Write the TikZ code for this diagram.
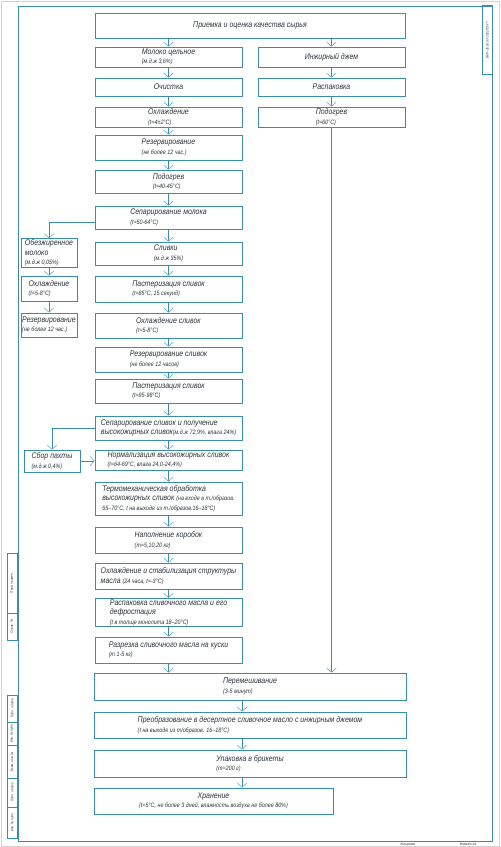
\documentclass[tikz,border=0pt]{standalone}
\usepackage{fontspec}
\setmainfont{Liberation Sans}[FakeStretch=0.85]
\usepackage{xcolor}
\definecolor{lineBlue}{RGB}{58, 140, 172}
\definecolor{arrowBlue}{RGB}{95, 170, 210}
\definecolor{textGray}{RGB}{45, 52, 62}
\usepackage{tikz}
\usetikzlibrary{positioning, arrows.meta}
\newcommand\mainfs{\itshape\fontsize{7}{8.2}\selectfont}
\newcommand\subfs{\fontsize{5.4}{6.2}\selectfont}
\newcommand\tinyfs{\itshape\fontsize{3}{3.5}\selectfont}

\begin{document}
\begin{tikzpicture}[
		x=0.03cm, y=-0.03cm,
		text=textGray,
		box/.style={rectangle, draw=lineBlue, line width=0.6pt, fill=white,
			align=left, inner sep=1pt, font=\mainfs},
		wd/.style={minimum width=#1*0.03cm},
		ht/.style={minimum height=#1*0.03cm},
		col/.style={box, wd=147},
		wide/.style={box, wd=312},
		side/.style={box, wd=56},
		arr/.style={draw=lineBlue, line width=0.5pt,
			-{Straight Barb[length=3.5pt, width=8pt, color=arrowBlue]}},
		frame/.style={draw=lineBlue, line width=0.6pt},
		stamp/.style={rectangle, draw=lineBlue, line width=0.5pt, inner sep=0.5pt,
			font=\tinyfs, rotate=90, minimum height=0.3cm}
		]
		\useasboundingbox (0,0) rectangle (500,847);
		\fill[white] (0,0) rectangle (500,847);
		\draw[gray!35, line width=0.8pt] (1,1) rectangle (499,846);

		% drawing frame
		\draw[frame] (18,6) rectangle (492,841);
		\node[stamp, wd=69] (code) at (487.5,40) {ВКР–35.03.07–2022ПЗ–ГТ};
		\node[stamp, wd=60] (perv)  at (12,583)   {Перв. примен.};
		\node[stamp, wd=27] (sprav) at (12,626.5) {Справ. №};
		\node[stamp, wd=27] (podp1) at (12,708.5) {Подп. и дата};
		\node[stamp, wd=23] (dubl)  at (12,733.5) {Инв. № дубл.};
		\node[stamp, wd=33] (vzam)  at (12,761.5) {Взам. инв. №};
		\node[stamp, wd=29] (podp2) at (12,792.5) {Подп. и дата};
		\node[stamp, wd=31] (podl)  at (12,822.5) {Инв. № подл.};
		\node[font=\tinyfs, inner sep=0pt] (kop) at (408,844.5) {Копировал};
		\node[font=\tinyfs, inner sep=0pt] (fmt) at (468,844.5) {Формат А4};

		% main column
		\node[box, wd=310, ht=25, align=center] (priem) at (250,25.5)
		{Приемка и оценка качества сырья};
		\node[col, ht=20] (milk)    at (168.5,57)    {Молоко цельное\\{\subfs(м.д.ж 3,6\%)}};
		\node[col, ht=18] (clean)   at (168.5,87)    {Очистка};
		\node[col, ht=20] (cool)    at (168.5,117)   {Охлаждение\\{\subfs(t=4±2°C)}};
		\node[col, ht=25] (resmilk) at (168.5,147.5) {Резервирование\\{\subfs(не более 12 час.)}};
		\node[col, ht=23] (heat)    at (168.5,181.5) {Подогрев\\{\subfs(t=40-45°C)}};
		\node[col, ht=23] (sepmilk) at (168.5,217.5) {Сепарирование молока\\{\subfs(t=50-64°C)}};
		\node[col, ht=23] (cream)   at (168.5,253.5) {Сливки\\{\subfs(м.д.ж 35\%)}};
		\node[col, ht=26] (pastA)   at (168.5,289)   {Пастеризация сливок\\{\subfs(t=85°C, 15 секунд)}};
		\node[col, ht=25] (coolcr)  at (168.5,325.5) {Охлаждение сливок\\{\subfs(t=5-8°C)}};
		\node[col, ht=25] (rescr)   at (168.5,359.5) {Резервирование сливок\\{\subfs(не более 12 часов)}};
		\node[col, ht=24] (pastB)   at (168.5,391)   {Пастеризация сливок\\{\subfs(t=95-98°C)}};
		\node[col, ht=24] (sepcr)   at (168.5,428)
		{Сепарирование сливок и получение\\высокожирных сливок{\subfs(м.д.ж 72,9\%, влага 24\%)}};
		\node[col, ht=20] (norm)    at (168.5,460)
		{Нормализация высокожирных сливок\\{\subfs(t=64-69°C, влага 24,0-24,4\%)}};
		\node[col, ht=33] (thermo)  at (168.5,498.5)
		{Термомеханическая обработка\\высокожирных сливок {\subfs(на входе в т./образов.}\\{\subfs 65–70°C, t на выходе из т./образов.16–18°C)}};
		\node[col, ht=26] (boxfill) at (168.5,540)   {Наполнение коробок\\{\subfs(m=5,10,20 кг)}};
		\node[col, ht=26] (stab)    at (168.5,576)
		{Охлаждение и стабилизация структуры\\масла {\subfs(24 часа, t=-3°C)}};
		\node[col, ht=27] (unpack)  at (168.5,612.5)
		{Распаковка сливочного масла и его\\дефростация\\{\subfs(t в толще монолита 18–20°C)}};
		\node[col, ht=26] (cut)     at (168.5,650)
		{Разрезка сливочного масла на куски\\{\subfs(m 1-5 кг)}};

		% jam column
		\node[col, ht=20] (jam)     at (331.5,57)  {Инжирный джем};
		\node[col, ht=18] (unpjam)  at (331.5,87)  {Распаковка};
		\node[col, ht=20] (heatjam) at (331.5,117) {Подогрев\\{\subfs(t=60°C)}};

		% side branches
		\node[side, ht=24] (skim)    at (49,253)   {Обезжиренное\\молоко\\{\subfs(м.д.ж 0,05\%)}};
		\node[side, ht=25] (coolsk)  at (49,288.5) {Охлаждение\\{\subfs(t=5-8°C)}};
		\node[side, ht=24] (ressk)   at (49,325)   {Резервирование\\{\subfs(не более 12 час.)}};
		\node[side, ht=22] (butter)  at (52,461)   {Сбор пахты\\{\subfs(м.д.ж 0,4\%)}};

		% joint steps
		\node[wide, ht=27] (mix)   at (250,686.5) {Перемешивание\\{\subfs(3-5 минут)}};
		\node[wide, ht=26] (conv)  at (250,725)
		{Преобразование в десертное сливочное масло с инжирным джемом\\{\subfs(t на выходе из т/образов. 16–18°C)}};
		\node[wide, ht=27] (pack)  at (250,763.5) {Упаковка в брикеты\\{\subfs(m=200 г)}};
		\node[box, wd=239, ht=26, align=center] (keep) at (213.5,801)
		{Хранение\\{\subfs(t=5°C, не более 3 дней, влажность воздуха не более 80\%)}};

		\draw[arr] (priem.south -| milk) -- (milk);
		\draw[arr] (priem.south -| jam)  -- (jam);
		\draw[arr] (milk)    -- (clean);
		\draw[arr] (clean)   -- (cool);
		\draw[arr] (cool)    -- (resmilk);
		\draw[arr] (resmilk) -- (heat);
		\draw[arr] (heat)    -- (sepmilk);
		\draw[arr] (sepmilk) -- (cream);
		\draw[arr] (cream)   -- (pastA);
		\draw[arr] (pastA)   -- (coolcr);
		\draw[arr] (coolcr)  -- (rescr);
		\draw[arr] (rescr)   -- (pastB);
		\draw[arr] (pastB)   -- (sepcr);
		\draw[arr] (sepcr)   -- (norm);
		\draw[arr] (norm)    -- (thermo);
		\draw[arr] (thermo)  -- (boxfill);
		\draw[arr] (boxfill) -- (stab);
		\draw[arr] (stab)    -- (unpack);
		\draw[arr] (unpack)  -- (cut);
		\draw[arr] (cut)     -- (cut |- mix.north);

		\draw[arr] (jam)     -- (unpjam);
		\draw[arr] (unpjam)  -- (heatjam);
		\draw[arr] (heatjam) -- (heatjam |- mix.north);

		\draw[arr] ([yshift=-0.15cm]sepmilk.west) -| (skim);
		\draw[arr] (skim)    -- (coolsk);
		\draw[arr] (coolsk)  -- (ressk);
		\draw[arr] (sepcr.west) -| (butter);
		\draw[arr] (butter)  -- (butter -| norm.west);

		\draw[arr] ([xshift=-0.24cm]mix.south)  -- ([xshift=-0.24cm]conv.north);
		\draw[arr] ([xshift=-0.24cm]conv.south) -- ([xshift=-0.24cm]pack.north);
		\draw[arr] ([xshift=-0.24cm]pack.south) -- ([xshift=-0.24cm]pack.south |- keep.north);
	\end{tikzpicture}
\end{document}
